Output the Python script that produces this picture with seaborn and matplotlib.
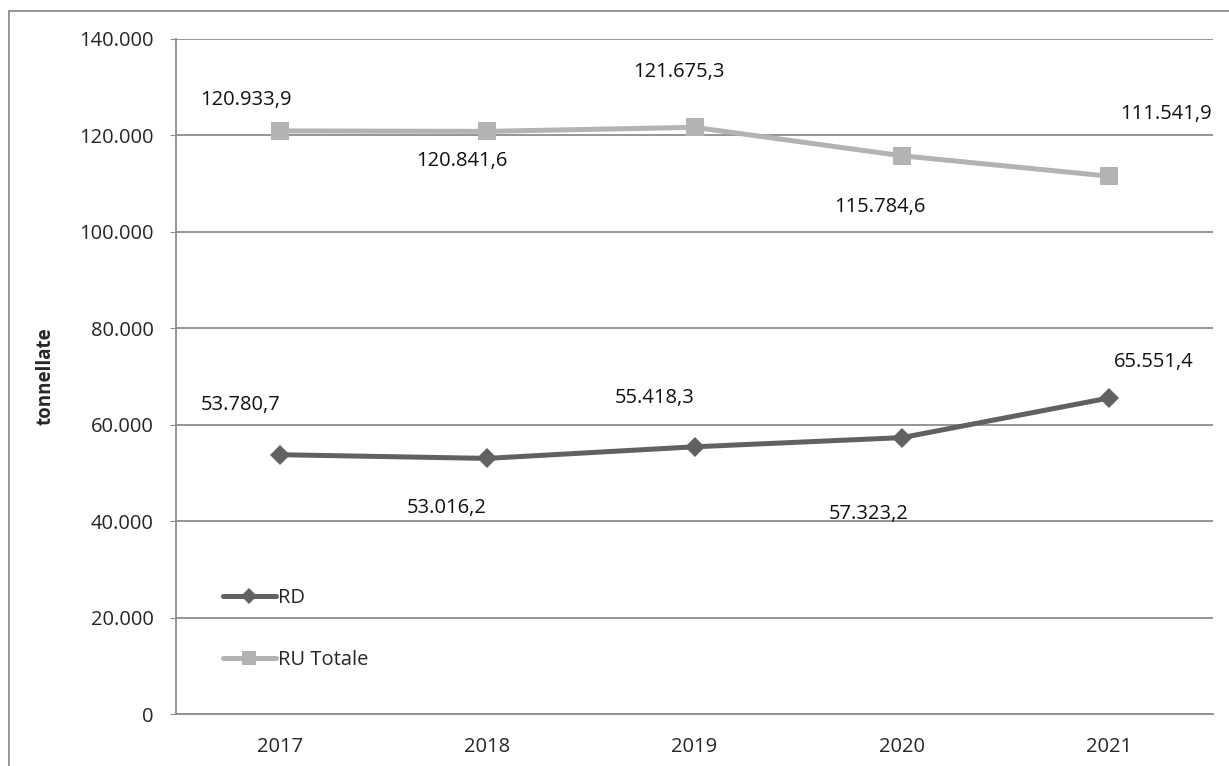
import pandas as pd
import seaborn as sns
from matplotlib import pyplot as plt
from matplotlib.patches import Rectangle
from matplotlib.ticker import FuncFormatter

anni = ['2017', '2018', '2019', '2020', '2021']
rd = [53780.7, 53016.2, 55418.3, 57323.2, 65551.4]
ru_totale = [120933.9, 120841.6, 121675.3, 115784.6, 111541.9]

# label offsets in points (dx, dy) from each marker
rd_off = [(-28, 36), (-29, -36), (-29, 35), (-24, -55), (32, 26)]
ru_off = [(-24, 22), (-18, -21), (-11, 40), (-16, -37), (41, 45)]

df = pd.DataFrame({'anno': anni * 2,
                   'valore': rd + ru_totale,
                   'serie': ['RD'] * 5 + ['RU Totale'] * 5})

sns.set_style('white')
plt.rcParams['font.family'] = ['Open Sans', 'DejaVu Sans']

col_rd = '#616161'
col_ru = '#b3b3b3'
fs = 14.5

fig = plt.figure(figsize=(12.29, 7.66), dpi=100)
ax = fig.add_axes([176 / 1229, 1 - 714 / 766, (1213 - 176) / 1229, (714 - 39) / 766])

sns.lineplot(data=df, x='anno', y='valore', hue='serie', style='serie',
             palette={'RD': col_rd, 'RU Totale': col_ru},
             markers={'RD': 'D', 'RU Totale': 's'}, dashes=False,
             markersize=12, linewidth=3.6, markeredgewidth=0, ax=ax)
# diamonds a bit smaller than squares
ax.lines[0].set_markersize(10.5)
ax.lines[1].set_markersize(13.5)

ax.set_xlim(-0.5, 4.5)
ax.set_ylim(0, 140000)
ax.set_yticks(range(0, 140001, 20000))
ax.yaxis.set_major_formatter(FuncFormatter(lambda v, p: f'{int(v):,}'.replace(',', '.')))
ax.grid(axis='y', color='#8c8c8c', linewidth=1.3)
ax.set_axisbelow(True)
for s in ['top', 'right']:
    ax.spines[s].set_visible(False)
for s in ['left', 'bottom']:
    ax.spines[s].set_color('#8c8c8c')
    ax.spines[s].set_linewidth(1.3)
ax.tick_params(axis='y', left=True, length=4, color='#8c8c8c', labelsize=fs, pad=12)
ax.tick_params(axis='x', bottom=False, labelsize=fs, pad=13)
ax.set_xlabel('')
ax.set_ylabel('tonnellate', fontsize=13.5, fontweight='bold', labelpad=17)

def fmt(v):
    return f'{v:,.1f}'.replace(',', 'X').replace('.', ',').replace('X', '.')

for vals, offs in [(rd, rd_off), (ru_totale, ru_off)]:
    for i, (v, o) in enumerate(zip(vals, offs)):
        ax.annotate(fmt(v), (i, v), xytext=o, textcoords='offset points',
                    ha='center', va='center', fontsize=fs, color='#111111')

leg = ax.legend(loc='center left', bbox_to_anchor=(0.028, 0.126), frameon=False,
                fontsize=fs, labelspacing=2.1, handlelength=2.6, handletextpad=0.1)
for h, ms in zip(leg.legend_handles, [8, 10]):
    h.set_markersize(ms)

fig.patches.append(Rectangle((9 / 1229, -0.1), 1.2, 1 - 11 / 766 + 0.1,
                             transform=fig.transFigure, fill=False,
                             edgecolor='#8c8c8c', linewidth=1.3))

fig.savefig('out.png', dpi=100)
